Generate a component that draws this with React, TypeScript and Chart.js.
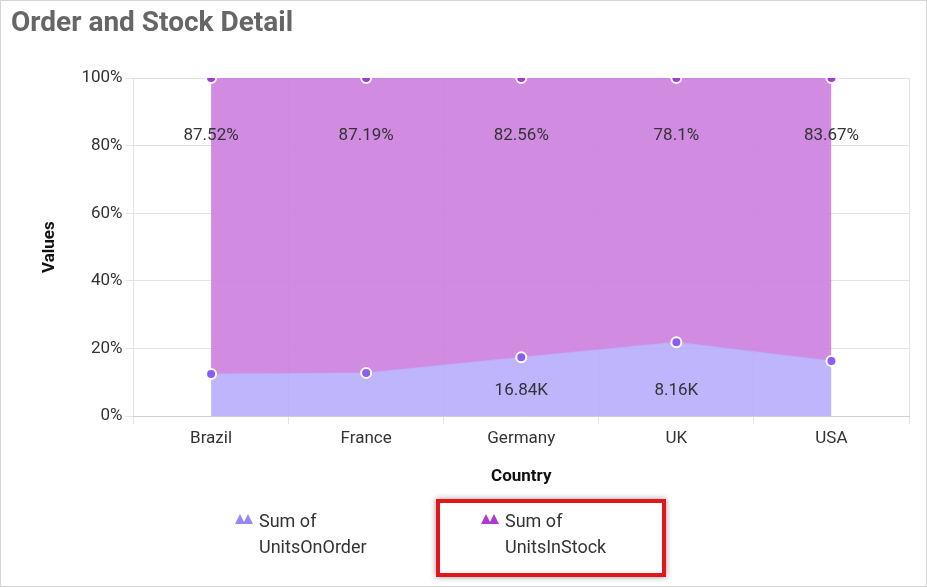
import { useEffect, useRef } from 'react';
import { Chart, registerables } from 'chart.js';

Chart.register(...registerables);

const countries = ['Brazil', 'France', 'Germany', 'UK', 'USA'];
const onOrderPct = [12.48, 12.81, 17.44, 21.9, 16.33];
const inStockPct = [87.52, 87.19, 82.56, 78.1, 83.67];
const inStockLabels = ['87.52%', '87.19%', '82.56%', '78.1%', '83.67%'];
const onOrderLabels = ['', '', '16.84K', '8.16K', ''];

const labelPlugin = {
  id: 'areaLabels',
  afterDatasetsDraw(chart: Chart) {
    const { ctx, scales } = chart;
    const x = scales.x;
    const y = scales.y;
    ctx.save();
    ctx.font = '17px Roboto';
    ctx.fillStyle = '#333';
    ctx.textAlign = 'center';
    ctx.textBaseline = 'middle';
    countries.forEach((_, i) => {
      const px = x.getPixelForValue(i);
      ctx.fillText(inStockLabels[i], px, y.getPixelForValue(83));
      if (onOrderLabels[i]) ctx.fillText(onOrderLabels[i], px, y.getPixelForValue(7.5));
    });
    ctx.restore();
  },
};

function Tri({ color }: { color: string }) {
  return (
    <svg width="20" height="12" style={{ marginRight: 4, marginTop: 4 }}>
      <polygon points="0,12 5,2 10,12" fill={color} />
      <polygon points="8,12 13,2 18,12" fill={color} />
    </svg>
  );
}

export default function App() {
  const canvasRef = useRef<HTMLCanvasElement | null>(null);

  useEffect(() => {
    const canvas = canvasRef.current;
    if (!canvas) return;
    const chart = new Chart(canvas, {
      type: 'line',
      data: {
        labels: countries,
        datasets: [
          {
            label: 'Sum of UnitsOnOrder',
            data: onOrderPct,
            fill: 'origin',
            backgroundColor: 'rgba(180,168,252,0.85)',
            borderColor: 'rgba(180,168,252,0.9)',
            borderWidth: 1,
            pointRadius: 5,
            pointBackgroundColor: '#8b5cf6',
            pointBorderColor: '#fff',
            pointBorderWidth: 2,
            tension: 0,
          },
          {
            label: 'Sum of UnitsInStock',
            data: inStockPct,
            fill: '-1',
            backgroundColor: 'rgba(204,128,222,0.9)',
            borderColor: 'rgba(204,128,222,0.9)',
            borderWidth: 1,
            pointRadius: 5,
            pointBackgroundColor: '#a43ad6',
            pointBorderColor: '#fff',
            pointBorderWidth: 2,
            tension: 0,
          },
        ],
      },
      options: {
        animation: false,
        responsive: false,
        maintainAspectRatio: false,
        layout: { padding: { left: 35, right: 17, top: 77, bottom: 95 } },
        plugins: { legend: { display: false }, tooltip: { enabled: false } },
        scales: {
          x: {
            offset: true,
            grid: { color: '#e3e3e3', offset: true, tickLength: 8 },
            border: { color: '#d0d0d0' },
            ticks: { color: '#333', font: { family: 'Roboto', size: 17 }, padding: 4 },
            title: { display: true, text: 'Country', color: '#111', font: { family: 'Roboto', size: 17, weight: 'bold' }, padding: { top: 14 } },
          },
          y: {
            stacked: true,
            min: 0,
            max: 100,
            grid: { color: '#e3e3e3', tickLength: 8 },
            border: { display: false },
            ticks: { stepSize: 20, color: '#333', font: { family: 'Roboto', size: 17 }, callback: (v) => `${v}%` },
            title: { display: true, text: 'Values', color: '#111', font: { family: 'Roboto', size: 17, weight: 'bold' }, padding: { bottom: 18 } },
          },
        },
      },
      plugins: [labelPlugin],
    });
    return () => chart.destroy();
  }, []);

  return (
    <div style={{ position: 'absolute', left: 0, top: 0, width: 925, height: 585, border: '1px solid #d4d4d4', background: '#fff', fontFamily: 'Roboto' }}>
      <canvas ref={canvasRef} width={925} height={585} style={{ position: 'absolute', left: 0, top: 0 }} />
      <div style={{ position: 'absolute', left: 10, top: 4, fontSize: 28, fontWeight: 'bold', color: '#666' }}>Order and Stock Detail</div>
      <div style={{ position: 'absolute', left: 234, top: 507, display: 'flex', fontSize: 18, color: '#333', lineHeight: '26px' }}>
        <Tri color="#9b86f5" />
        <div>Sum of<br />UnitsOnOrder</div>
      </div>
      <div style={{ position: 'absolute', left: 435, top: 498, width: 222, height: 70, border: '4px solid #e4151b', boxShadow: '0 0 6px rgba(0,0,0,0.4)' }} />
      <div style={{ position: 'absolute', left: 480, top: 507, display: 'flex', fontSize: 18, color: '#333', lineHeight: '26px' }}>
        <Tri color="#b03ad0" />
        <div>Sum of<br />UnitsInStock</div>
      </div>
    </div>
  );
}
